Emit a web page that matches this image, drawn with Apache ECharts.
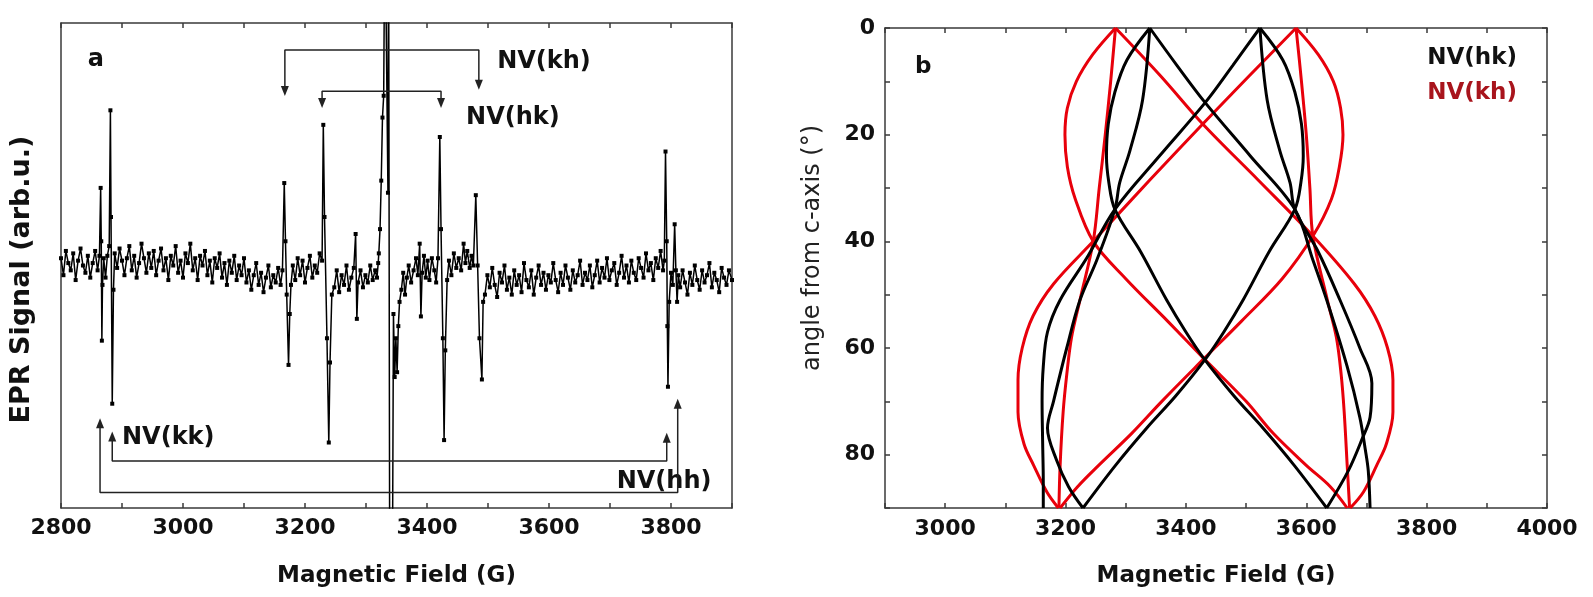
<!DOCTYPE html>
<html>
<head>
<meta charset="utf-8">
<script src="https://cdn.jsdelivr.net/npm/echarts@6/dist/echarts.min.js"></script>
<style>
  html, body { margin: 0; padding: 0; background: #fff; }
  #chart { width: 1593px; height: 597px; }
</style>
</head>
<body>
<div id="chart"></div>
<script>
// ---- panel a : EPR spectrum (field G, signal arb.u.) ----
const eprSpectrum = [
  [2800, 3], [2804, -4], [2808, 6], [2812, 1], [2816, -2], [2820, 5], [2824, -6], [2828, 2], [2832, 7], [2836, 0],
  [2840, -3], [2844, 4], [2848, -5], [2852, 1], [2856, 6], [2860, -2], [2863, 4], [2865, 32], [2866, 10], [2867, -31],
  [2868, -8], [2870, 3], [2873, -5], [2876, 4], [2879, 8], [2881, 64], [2882, 20], [2884, -57], [2886, -10], [2888, 5],
  [2892, -1], [2896, 7], [2900, 2], [2904, -4], [2908, 3], [2912, 8], [2916, -2], [2920, 4], [2924, -5], [2928, 1],
  [2932, 9], [2936, 3], [2940, -3], [2944, 5], [2948, -1], [2952, 6], [2956, -4], [2960, 2], [2964, 7], [2968, -2],
  [2972, 3], [2976, -6], [2980, 4], [2984, 0], [2988, 8], [2992, -3], [2996, 2], [3000, -5], [3004, 5], [3008, 1],
  [3012, 9], [3016, -2], [3020, 3], [3024, -6], [3028, 4], [3032, 0], [3036, 6], [3040, -4], [3044, 2], [3048, -7],
  [3052, 3], [3056, -1], [3060, 5], [3064, -5], [3068, 1], [3072, -8], [3076, 2], [3080, -3], [3084, 4], [3088, -6],
  [3092, 0], [3096, -4], [3100, 3], [3104, -7], [3108, -2], [3112, -10], [3116, -4], [3120, 1], [3124, -8], [3128, -3],
  [3132, -11], [3136, -5], [3140, 0], [3144, -9], [3148, -4], [3152, -7], [3156, -1], [3160, -8], [3163, -2], [3166, 34],
  [3168, 10], [3170, -12], [3173, -41], [3175, -20], [3177, -8], [3180, 0], [3184, -6], [3188, 3], [3192, -4], [3196, 2],
  [3200, -7], [3204, -1], [3208, 4], [3212, -5], [3216, 0], [3220, -3], [3224, 5], [3228, 2], [3230, 58], [3232, 20],
  [3236, -30], [3239, -73], [3241, -40], [3244, -12], [3248, -9], [3252, -2], [3256, -11], [3260, -4], [3264, -8], [3268, 0],
  [3272, -10], [3276, -5], [3280, -1], [3283, 13], [3285, -22], [3287, -7], [3291, -2], [3295, -9], [3299, -4], [3303, -7],
  [3307, 0], [3311, -6], [3315, -2], [3318, -5], [3320, 1], [3321, 5], [3323, 15], [3325, 35], [3327, 61], [3329, 70],
  [3331, 150], [3334, 150], [3336, 30], [3337, 150], [3339, -150], [3343, -150], [3345, -20], [3347, -46], [3349, -30], [3351, -44],
  [3353, -25], [3355, -15], [3358, -10], [3361, -3], [3364, -12], [3367, -5], [3370, 0], [3374, -7], [3378, -2], [3382, 3],
  [3385, -4], [3388, 9], [3390, -21], [3392, -3], [3395, 4], [3398, -5], [3401, 2], [3404, -6], [3408, 3], [3412, -2],
  [3415, -7], [3418, 3], [3421, 53], [3423, 15], [3426, -30], [3428, -72], [3430, -35], [3433, -6], [3436, 2], [3440, -4],
  [3444, 5], [3448, -1], [3452, 3], [3456, -2], [3460, 9], [3463, 1], [3466, 6], [3470, -1], [3473, 4], [3476, 0],
  [3480, 29], [3483, 0], [3486, -30], [3490, -47], [3492, -15], [3495, -12], [3499, -4], [3503, -9], [3507, -1], [3511, -8],
  [3515, -13], [3519, -3], [3523, -7], [3527, 0], [3531, -10], [3535, -5], [3539, -12], [3543, -2], [3547, -8], [3551, -4],
  [3555, -11], [3559, 1], [3563, -6], [3567, -9], [3571, -2], [3575, -12], [3579, -5], [3583, 0], [3587, -8], [3591, -3],
  [3595, -10], [3599, -4], [3603, -7], [3607, 1], [3611, -6], [3615, -11], [3619, -3], [3623, -8], [3627, 0], [3631, -5],
  [3635, -10], [3639, -2], [3643, -7], [3647, -4], [3651, 2], [3655, -8], [3659, -3], [3663, -6], [3667, 0], [3671, -9],
  [3675, -4], [3679, 2], [3683, -7], [3687, -1], [3691, -5], [3695, 3], [3699, -6], [3703, -2], [3707, 1], [3711, -8],
  [3715, -3], [3719, 4], [3723, -5], [3727, 0], [3731, -7], [3735, 2], [3739, -3], [3743, -6], [3747, 3], [3751, -1],
  [3755, -5], [3759, 5], [3763, -2], [3767, 1], [3771, -6], [3775, 3], [3779, -1], [3783, 6], [3787, -2], [3789, 2],
  [3791, 47], [3793, 10], [3794, -25], [3795, -50], [3797, -15], [3800, -3], [3803, -8], [3806, 17], [3808, -2], [3810, -15],
  [3812, -4], [3815, -9], [3819, -2], [3823, -7], [3827, -12], [3831, -3], [3835, -8], [3839, 0], [3843, -6], [3847, -10],
  [3851, -2], [3855, -7], [3859, -4], [3863, 1], [3867, -9], [3871, -3], [3875, -6], [3879, -11], [3883, -1], [3887, -5],
  [3891, -8], [3895, -2], [3900, -6]
]

// arrow brackets (first and last points carry the arrow heads)
const khBracket = [[3167, 72], [3167, 88.9], [3485, 88.9], [3485, 74.5]]
const hkBracket = [[3228, 67], [3228, 71.9], [3423, 71.9], [3423, 67]]
const kkBracket = [[2884, -70.5], [2884, -80.6], [3793, -80.6], [3793, -71]]
const hhBracket = [[2864, -65], [2864, -93.6], [3811, -93.6], [3811, -57]]

const spectrumLabels = [
  { name: 'a', value: [2844, 84.7], size: 24 },
  { name: 'NV(kh)', value: [3515, 84], size: 24 },
  { name: 'NV(hk)', value: [3464, 60.8], size: 24 },
  { name: 'NV(kk)', value: [2900, -71], size: 24 },
  { name: 'NV(hh)', value: [3711, -89.3], size: 24 }
]

// ---- panel b : angular dependence [field G, angle deg] ----
// NV(kh), red
const khCurves = [
  [[3283, 0], [3245, 5], [3218, 10], [3203, 15], [3199, 20], [3203, 26], [3216, 32], [3246, 40], [3300, 47], [3370, 55], [3430, 62], [3500, 70], [3545, 76], [3600, 82], [3640, 86], [3668, 90]],
  [[3583, 0], [3620, 5], [3645, 10], [3657, 15], [3661, 20], [3655, 26], [3642, 32], [3611, 39], [3560, 47], [3492, 55], [3430, 62], [3360, 70], [3310, 76], [3255, 82], [3220, 86], [3191, 90]],
  [[3583, 0], [3505, 9], [3428, 18], [3340, 28.5], [3246, 40], [3180, 48], [3146, 54], [3128, 60], [3121, 66], [3121, 72], [3131, 78], [3147, 82], [3169, 87], [3188, 90]],
  [[3283, 0], [3358, 9], [3428, 18], [3520, 28.5], [3611, 39], [3680, 48], [3714, 54], [3735, 60], [3744, 66], [3744, 72], [3733, 78], [3717, 82], [3695, 87], [3673, 90]],
  [[3283, 0], [3275, 10], [3266, 20], [3256, 30], [3246, 40], [3224, 51], [3210, 58], [3202, 65], [3196, 72], [3191, 82], [3189, 90]],
  [[3583, 0], [3592, 10], [3600, 20], [3606, 30], [3611, 39], [3635, 51], [3650, 58], [3658, 65], [3663, 72], [3668, 82], [3672, 90]]
]
// NV(hk), black
const hkCurves = [
  [[3340, 0], [3302, 6], [3282, 12], [3271, 18], [3268, 24], [3272, 29], [3282, 34], [3325, 42], [3368, 51], [3400, 57], [3430, 62], [3480, 69], [3528, 75], [3580, 82], [3634, 90]],
  [[3523, 0], [3561, 6], [3581, 12], [3592, 18], [3595, 24], [3591, 29], [3581, 34], [3538, 42], [3495, 51], [3463, 57], [3433, 62], [3383, 69], [3335, 75], [3283, 82], [3229, 90]],
  [[3340, 0], [3385, 7], [3432, 14], [3507, 24], [3581, 34], [3611, 43.5], [3634, 51], [3668, 63.5], [3689, 73], [3698, 79], [3703, 83], [3706, 90]],
  [[3523, 0], [3478, 7], [3432, 14], [3356, 24], [3282, 34], [3236, 43], [3191, 51], [3170, 57], [3163, 63.5], [3161, 70], [3162, 78], [3163, 85], [3163, 90]],
  [[3340, 0], [3328, 13.5], [3307, 23], [3290, 29], [3282, 34], [3252, 43.5], [3224, 51], [3202, 60], [3180, 70], [3170, 75], [3185, 81], [3205, 86], [3229, 90]],
  [[3523, 0], [3535, 13.5], [3556, 23], [3573, 29], [3581, 34], [3620, 42], [3656, 51], [3689, 60], [3709, 66.6], [3706, 73], [3693, 77], [3670, 83], [3634, 90]]
]

const angleLabels = [
  { name: 'b', value: [2950, 7.3], size: 23, color: '#111' },
  { name: 'NV(hk)', value: [3801, 5.6], size: 23, color: '#111' },
  { name: 'NV(kh)', value: [3801, 12.2], size: 23, color: '#a8141c' }
]

const axisColor = '#3a3a3a'
const tickFont = { fontFamily: 'DejaVu Sans', fontWeight: 'bold', fontSize: 22, color: '#111' }
const nameFont = { fontFamily: 'DejaVu Sans', fontWeight: 'bold', fontSize: 23, color: '#111' }

function frame (extra) {
  return Object.assign({
    type: 'value',
    axisLine: { show: true, onZero: false, lineStyle: { color: axisColor, width: 1.5 } },
    axisTick: { show: true, inside: true, length: 5, lineStyle: { color: axisColor, width: 1.5 } },
    axisLabel: { show: false },
    splitLine: { show: false }
  }, extra)
}

function evenLabel (step) {
  return (v) => (v % step === 0 ? String(v) : '')
}

// bracket line with triangle heads at both ends
function bracket (pts, dir) {
  return {
    type: 'line',
    xAxisIndex: 0,
    yAxisIndex: 0,
    silent: true,
    lineStyle: { color: '#222', width: 1.5 },
    itemStyle: { color: '#222' },
    data: pts.map((p, i) => {
      const end = i === 0 || i === pts.length - 1
      return {
        value: p,
        symbol: end ? 'triangle' : 'none',
        symbolSize: end ? [8, 10] : 0,
        symbolRotate: dir === 'down' ? 180 : 0
      }
    })
  }
}

function curve (pts, color) {
  return {
    type: 'line',
    xAxisIndex: 2,
    yAxisIndex: 2,
    data: pts,
    smooth: 0.35,
    showSymbol: false,
    silent: true,
    lineStyle: { color: color, width: 3 }
  }
}

// text placed in data coordinates, left edge / vertical middle at the point
function textSeries (xi, yi, items) {
  return {
    type: 'custom',
    xAxisIndex: xi,
    yAxisIndex: yi,
    silent: true,
    data: items.map(d => d.value),
    renderItem: (params, api) => {
      const d = items[params.dataIndex]
      const p = api.coord([api.value(0), api.value(1)])
      return {
        type: 'text',
        x: p[0],
        y: p[1],
        style: {
          text: d.name,
          fill: d.color || '#111',
          fontFamily: 'DejaVu Sans',
          fontWeight: 'bold',
          fontSize: d.size,
          align: 'left',
          verticalAlign: 'middle'
        }
      }
    }
  }
}

const chart = echarts.init(document.getElementById('chart'))

const series = [
  {
    type: 'line',
    xAxisIndex: 0,
    yAxisIndex: 0,
    data: eprSpectrum,
    symbol: 'rect',
    symbolSize: 4,
    showAllSymbol: true,
    clip: true,
    lineStyle: { color: '#000', width: 1.5 },
    itemStyle: { color: '#000' }
  },
  bracket(khBracket, 'down'),
  bracket(hkBracket, 'down'),
  bracket(kkBracket, 'up'),
  bracket(hhBracket, 'up'),
  textSeries(0, 0, spectrumLabels)
]

khCurves.forEach(c => series.push(curve(c, '#e8000b')))
hkCurves.forEach(c => series.push(curve(c, '#000')))
series.push(textSeries(2, 2, angleLabels))

chart.setOption({
  animation: false,
  backgroundColor: '#fff',
  grid: [
    { left: 61, top: 23, width: 671, height: 485 },
    { left: 885, top: 28, width: 662, height: 480 }
  ],
  xAxis: [
    frame({
      gridIndex: 0, position: 'bottom', min: 2800, max: 3900, interval: 100,
      axisLabel: Object.assign({ show: true, margin: 9, formatter: evenLabel(200) }, tickFont),
      name: 'Magnetic Field (G)', nameLocation: 'middle', nameGap: 57, nameTextStyle: nameFont
    }),
    frame({ gridIndex: 0, position: 'top', min: 2800, max: 3900, interval: 100 }),
    frame({
      gridIndex: 1, position: 'bottom', min: 2900, max: 4000, interval: 100,
      axisLabel: Object.assign({ show: true, margin: 10, formatter: evenLabel(200) }, tickFont),
      name: 'Magnetic Field (G)', nameLocation: 'middle', nameGap: 57, nameTextStyle: nameFont
    }),
    frame({ gridIndex: 1, position: 'top', min: 2900, max: 4000, interval: 100 })
  ],
  yAxis: [
    frame({
      gridIndex: 0, position: 'left', min: -100, max: 100,
      axisTick: { show: false },
      name: 'EPR Signal (arb.u.)', nameLocation: 'middle', nameGap: 26,
      nameTextStyle: { fontFamily: 'DejaVu Sans', fontWeight: 'bold', fontSize: 27, color: '#111', padding: [0, 28, 0, 0] }
    }),
    frame({ gridIndex: 0, position: 'right', min: -100, max: 100, axisTick: { show: false } }),
    frame({
      gridIndex: 1, position: 'left', min: 0, max: 90, interval: 10, inverse: true,
      axisLabel: Object.assign({ show: true, margin: 10, formatter: evenLabel(20) }, tickFont),
      name: 'angle from c-axis (°)', nameLocation: 'middle', nameGap: 60,
      nameTextStyle: { fontFamily: 'DejaVu Sans', fontSize: 24, color: '#222', padding: [0, 0, 0, 40] }
    }),
    frame({ gridIndex: 1, position: 'right', min: 0, max: 90, interval: 10, inverse: true })
  ],
  series: series
})
</script>
</body>
</html>
